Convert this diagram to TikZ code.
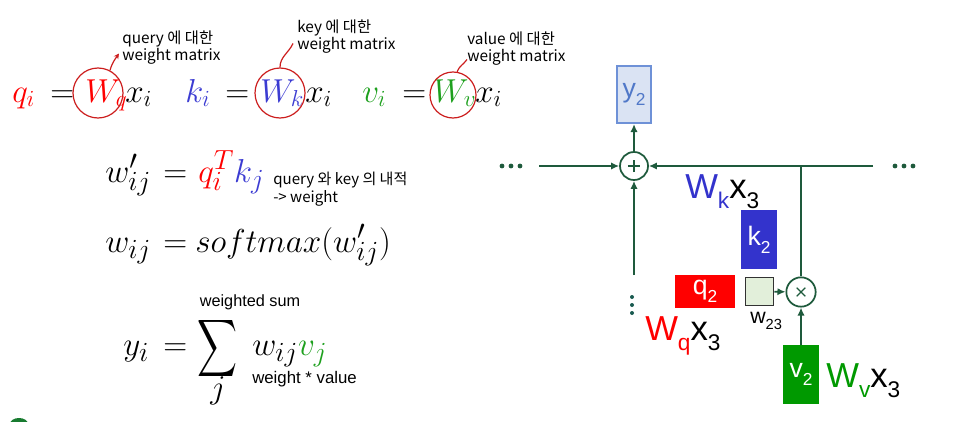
\documentclass[tikz,border=0pt]{standalone}
\usepackage{fontspec}
\usepackage{graphicx}
\usetikzlibrary{arrows.meta}
\newfontfamily\arial{Liberation Sans}
\newfontfamily\kr{Noto Sans CJK KR}
\definecolor{qred}{RGB}{255,0,0}
\definecolor{kblue}{RGB}{51,51,204}
\definecolor{vgreen}{RGB}{0,153,0}
\definecolor{eqk}{RGB}{60,60,210}
\definecolor{eqv}{RGB}{30,160,30}
\definecolor{ringred}{RGB}{204,30,30}
\definecolor{lineg}{RGB}{30,90,60}
\definecolor{dotc}{RGB}{25,90,80}
\definecolor{yfill}{RGB}{218,227,243}
\definecolor{yedge}{RGB}{110,145,215}
\definecolor{ytext}{RGB}{80,120,200}
\definecolor{wfill}{RGB}{226,239,218}
\definecolor{wedge}{RGB}{50,50,50}
\newcommand\dsub[2]{\raisebox{-0.3em}{\fontsize{#1}{#1}\selectfont #2}}
\begin{document}
\begin{tikzpicture}[x=0.75pt,y=-0.75pt,
  eqA/.style={anchor=base west, inner sep=0, font=\fontsize{25}{30}\selectfont},
  eqB/.style={anchor=base west, inner sep=0, font=\fontsize{28}{34}\selectfont},
  note/.style={anchor=west, inner sep=0, align=left, font=\kr\fontsize{11.5}{12.75}\selectfont},
  notetwo/.style={anchor=west, inner sep=0, align=left, font=\kr\fontsize{11.3}{13.5}\selectfont},
  notethree/.style={inner sep=0, font=\arial\fontsize{12.2}{14}\selectfont},
  ring/.style={circle, draw=ringred, line width=0.9pt, minimum size=37.5pt, inner sep=0},
  annot/.style={draw=ringred, line width=0.9pt},
  flow/.style={draw=lineg, line width=1.3pt},
  arr/.style={flow, -{Latex[length=6pt,width=5.5pt]}},
  op/.style={circle, draw=lineg, line width=1.3pt, minimum size=21pt, inner sep=0, fill=white},
  box/.style={rectangle, inner sep=0, text=white, font=\arial\fontsize{20}{20}\selectfont},
  lab/.style={anchor=base west, inner sep=0, font=\arial\fontsize{26}{26}\selectfont}]
\useasboundingbox (0,0) rectangle (966,421);
\begin{scope}
\clip (0,0) rectangle (966,421);
\fill[lineg!80!green] (19,424) ellipse [x radius=9, y radius=6];
\end{scope}
% top row
\node[eqA, text=qred] (qi) at (12,102) {$q_i$};
\node[eqA] (eqa) at (50,102) {$=$};
\node[eqA, text=qred] (Wq) at (85,102) {$W_q$};
\node[eqA] (xa) at (125,102) {$x_i$};
\node[ring] (cq) at (98,93) {};
\node[eqA, text=eqk] (ki) at (185,102) {$k_i$};
\node[eqA] (eqb) at (225,102) {$=$};
\node[eqA, text=eqk] (Wk) at (260,102) {$W_k$};
\node[eqA] (xb) at (305,102) {$x_i$};
\node[ring] (ck) at (280,93) {};
\node[eqA, text=eqv] (vi) at (362,102) {$v_i$};
\node[eqA] (eqc) at (402,102) {$=$};
\node[eqA, text=eqv] (Wv) at (433,102) {$W_v$};
\node[eqA] (xc) at (475,102) {$x_i$};
\node[ring, minimum size=34.5pt] (cv) at (453,95) {};
\node[note] (nq) at (122,47.5) {query 에 대한\\weight matrix};
\node[note] (nk) at (297,36.5) {key 에 대한\\weight matrix};
\node[note] (nv) at (467,48.5) {value 에 대한\\weight matrix};
\draw[annot, -{Stealth[length=4pt,width=4pt]}] (cq.62) to[out=75,in=235] ([shift={(-3,6)}]nq.west);
\draw[annot] (ck.north) to[out=90,in=245] ([shift={(-4,7)}]nk.west);
\draw[annot] (cv.80) to[out=70,in=235] ([shift={(0,11)}]nv.west);
% second row
\node[eqB] (wp) at (105,182) {$w'_{ij}$};
\node[eqB] (eqd) at (163,182) {$=$};
\node[eqB, text=qred] (qT) at (198,182) {$q_i^T{\color{eqk}k_j}$};
\node[notetwo] (nqk) at (273,189) {query 와 key 의 내적\\-> weight};
% third row
\node[eqB] (w) at (105,252) {$w_{ij}$};
\node[eqB] (eqe) at (163,252) {$=$};
\node[eqB] (sm) at (195,252) {$softmax(w'_{ij})$};
% fourth row
\node[eqB] (yi) at (123,355) {$y_i$};
\node[eqB] (eqf) at (163,355) {$=$};
\node[inner sep=0] (sum) at (217,348) {\resizebox*{30pt}{48pt}{$\displaystyle\sum$}};
\node[inner sep=0, font=\fontsize{24}{28}\selectfont] (sj) at (218,391) {$j$};
\node[eqB] (wv) at (252,355) {$w_{ij}{\color{eqv}v_j}$};
\node[notethree] (wsum) at (250,302) {weighted sum};
\node[notethree, anchor=west, font=\arial\fontsize{12.6}{14}\selectfont] (wval) at (252,379) {weight * value};
% right diagram
\node[box, fill=yfill, draw=yedge, line width=1.3pt, text=ytext, minimum width=26pt, minimum height=43pt] (y2) at (634,94.5) {y\dsub{13}{2}};
\node[op] (plus) at (634,166) {};
\draw[lineg, line width=2pt] ([xshift=-4.6pt]plus.center) -- ([xshift=4.6pt]plus.center);
\draw[lineg, line width=2pt] ([yshift=-4.6pt]plus.center) -- ([yshift=4.6pt]plus.center);
\node[op, minimum size=22pt] (times) at (801,292) {};
\draw[lineg, line width=1pt] ([shift={(-3.2pt,-3.2pt)}]times.center) -- ([shift={(3.2pt,3.2pt)}]times.center);
\draw[lineg, line width=1pt] ([shift={(-3.2pt,3.2pt)}]times.center) -- ([shift={(3.2pt,-3.2pt)}]times.center);
\node[box, fill=kblue, minimum width=27pt, minimum height=44.25pt] (k2) at (759,239.5) {k\dsub{13}{2}};
\node[box, fill=qred, minimum width=45pt, minimum height=24.75pt] (q2) at (705,291.5) {q\dsub{13}{2}};
\node[rectangle, inner sep=0, fill=wfill, draw=wedge, line width=1.2pt, minimum width=21pt, minimum height=21pt] (w23) at (759.5,291.5) {};
\node[box, fill=vgreen, minimum width=27pt, minimum height=44.25pt] (v2) at (801,374.5) {v\dsub{13}{2}};
\node[lab] (lk) at (685,198) {{\color{kblue}W\dsub{17}{k}}x\dsub{17}{3}};
\node[lab] (lq) at (645,340) {{\color{qred}W\dsub{17}{q}}x\dsub{17}{3}};
\node[lab] (lv) at (826,387) {{\color{vgreen}W\dsub{17}{v}}x\dsub{17}{3}};
\node[lab, font=\arial\fontsize{16}{16}\selectfont] (lw) at (750,323) {w\dsub{11}{23}};
\coordinate (lin) at (539,166);
\coordinate (rin) at (873,166);
\coordinate (vb) at (634,275);
\coordinate (jn) at (801,166);
\draw[arr] (lin) -- (plus);
\draw[arr] (rin) -- (plus);
\draw[arr] (vb) -- (plus);
\draw[arr] (plus) -- (y2);
\draw[flow] (jn) -- (times);
\draw[arr] (w23) -- (times);
\draw[arr] (v2) -- (times);
\foreach \x in {502,511,520,895,904,913} \fill[lineg] (\x,166) circle (1.8pt);
\foreach \y in {297,305,313} \fill[dotc] (632,\y) circle (1.5pt);
\end{tikzpicture}
\end{document}
